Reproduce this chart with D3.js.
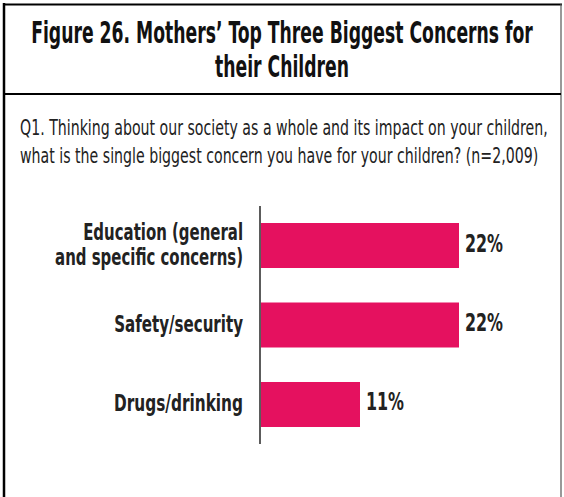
<!DOCTYPE html>
<html><head><meta charset="utf-8">
<script src="https://cdn.jsdelivr.net/npm/d3@7"></script>
<style>body{margin:0;background:#fff}svg{display:block}</style>
</head><body>
<script>
const titleLines = ["Figure 26. Mothers\u2019 Top Three Biggest Concerns for", "their Children"];
const questionLines = ["Q1. Thinking about our society as a whole and its impact on your children,", "what is the single biggest concern you have for your children? (n=2,009)"];
const categories = [["Education (general", "and specific concerns)"], ["Safety/security"], ["Drugs/drinking"]];
const values = [22, 22, 11];

const W = 564, H = 497;
const svg = d3.select("body").append("svg").attr("width", W).attr("height", H);
const font = "'DejaVu Sans Condensed','DejaVu Sans',sans-serif";

// Draw a group of lines, compress horizontally so that the reference line fits targetWidth
function textGroup(lines, opts) {
  const g = svg.append("g");
  const nodes = lines.map((t, i) => g.append("text")
    .attr("x", 0).attr("y", 0)
    .attr("text-anchor", opts.anchor)
    .style("font-family", font).style("font-weight", opts.weight || "normal")
    .style("font-size", opts.size + "px").attr("fill", opts.fill || "#222")
    .text(t));
  const w = nodes[opts.refIndex || 0].node().getComputedTextLength();
  const s = Math.min(1, opts.targetWidth / w);
  nodes.forEach((n, i) => n.attr("transform", `translate(${opts.x},${opts.ys[i]}) scale(${s},1)`));
  return s;
}

// frame
svg.append("line").attr("x1",4).attr("x2",4).attr("y1",3).attr("y2",H).attr("stroke","#000").attr("stroke-width",2.5);
svg.append("line").attr("x1",3).attr("x2",562).attr("y1",4.5).attr("y2",4.5).attr("stroke","#000").attr("stroke-width",2);
svg.append("line").attr("x1",561).attr("x2",561).attr("y1",4).attr("y2",H).attr("stroke","#555").attr("stroke-width",1.2);
svg.append("line").attr("x1",4).attr("x2",561).attr("y1",94).attr("y2",94).attr("stroke","#000").attr("stroke-width",2);

textGroup(titleLines, {anchor:"middle", weight:"bold", size:31, fill:"#111", x:282, ys:[43,77], targetWidth:502});
textGroup(questionLines, {anchor:"start", size:21, fill:"#222", x:20, ys:[135,163], targetWidth:528});

const x = d3.scaleLinear().domain([0, 22]).range([261, 459]);
const y = d3.scaleBand().domain(d3.range(values.length)).range([206, 444]).paddingInner(0.434).paddingOuter(0.214);

svg.selectAll("rect.bar").data(values).join("rect").attr("class","bar")
  .attr("x",x(0)).attr("y",(d,i)=>y(i)).attr("width",d=>x(d)-x(0)).attr("height",y.bandwidth())
  .attr("fill","#E5115F");

svg.append("line").attr("x1",260).attr("x2",260).attr("y1",206).attr("y2",444).attr("stroke","#333").attr("stroke-width",1.6);

values.forEach((v,i)=>{
  textGroup([v+"%"], {anchor:"start", weight:"bold", size:24, fill:"#222", x:x(v)+6, ys:[y(i)+y.bandwidth()/2+6], targetWidth:38});
});

categories.forEach((lines,i)=>{
  const cy = y(i)+y.bandwidth()/2;
  const lh = 25;
  const ys = lines.map((t,j)=> cy + (j-(lines.length-1)/2)*lh + 7);
  textGroup(lines, {anchor:"end", weight:"bold", size:23, fill:"#222", x:243, ys, targetWidth: lines.length>1 ? 160 : 129});
});
</script>
</body></html>
